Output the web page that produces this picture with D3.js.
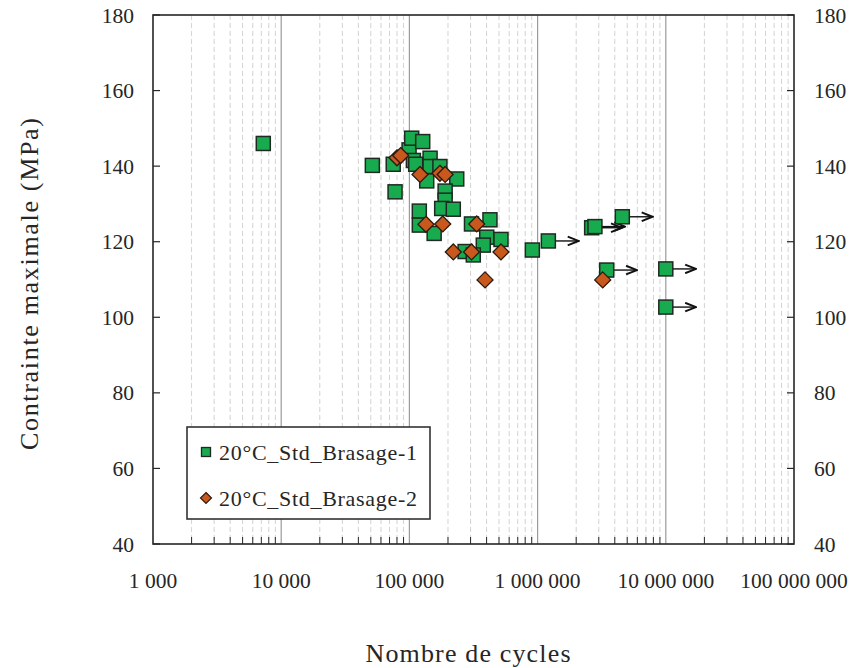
<!DOCTYPE html>
<html><head><meta charset="utf-8">
<script src="https://cdn.jsdelivr.net/npm/d3@7"></script>
<style>body{margin:0;background:#fff}svg{display:block}</style>
</head><body>
<svg id="c" width="853" height="668"></svg>
<script>
// ---- data ----
const series1Name = "20°C_Std_Brasage-1";
const series2Name = "20°C_Std_Brasage-2";
const s1Cycles = [7250, 51400, 74800, 77300, 99400, 104200, 127000, 107400, 112000, 145000, 145000, 173000, 136500, 234000, 190000, 190000, 178600, 220000, 119500, 119500, 156000, 305000, 425000, 401000, 518000, 377000, 272000, 315000, 910000, 1213000, 2640000, 2800000, 4580000, 3460000, 10000000, 10000000];
const s1Stress = [146.0, 140.2, 140.5, 133.2, 144.3, 147.4, 146.5, 141.5, 140.5, 142.1, 139.9, 139.9, 136.1, 136.6, 133.4, 131.0, 128.8, 128.6, 128.1, 124.4, 122.2, 124.7, 125.8, 121.2, 120.6, 119.1, 117.4, 116.5, 117.8, 120.2, 123.7, 124.0, 126.6, 112.5, 112.8, 102.7];
const s1Runout = [0,0,0,0,0,0,0,0,0,0,0,0,0,0,0,0,0,0,0,0,0,0,0,0,0,0,0,0,0,1,1,1,1,1,1,1];
const s2Cycles = [80000, 85500, 121000, 173000, 190000, 134600, 182000, 335000, 220000, 305000, 518000, 389000, 3220000];
const s2Stress = [142.2, 142.8, 137.8, 138.1, 137.8, 124.6, 124.7, 124.7, 117.3, 117.3, 117.3, 109.9, 109.9];
const xTickValues = [1e3, 1e4, 1e5, 1e6, 1e7, 1e8];
const xTickLabels = ["1 000", "10 000", "100 000", "1 000 000", "10 000 000", "100 000 000"];
const yTickValues = [40, 60, 80, 100, 120, 140, 160, 180];
const xTitle = "Nombre de cycles";
const yTitle = "Contrainte maximale (MPa)";
const runoutFactor = 1.72;

// ---- layout ----
const L = 153, R = 794, T = 15, B = 544;
const svg = d3.select("#c");
const font = "'Liberation Serif', 'DejaVu Serif', serif";
const x = d3.scaleLog().domain([1e3, 1e8]).range([L, R]);
const y = d3.scaleLinear().domain([40, 180]).range([B, T]);
const green = "#18aa4f", orange = "#c9581d";
const ink = "#262626";

// minor & major vertical grid
const minors = [];
for (let d = 1e3; d < 1e8; d *= 10) for (let k = 2; k <= 9; k++) minors.push(d * k);
svg.append("g").selectAll("line").data(minors).join("line")
  .attr("x1", d => x(d)).attr("x2", d => x(d)).attr("y1", T).attr("y2", B)
  .attr("stroke", "#d2d2d2").attr("stroke-width", 1).attr("stroke-dasharray", "5,3");
svg.append("g").selectAll("line").data(xTickValues.slice(1, -1)).join("line")
  .attr("x1", d => x(d)).attr("x2", d => x(d)).attr("y1", T).attr("y2", B)
  .attr("stroke", "#9a9a9a").attr("stroke-width", 1.2);

// bottom axis minor ticks (inward)
svg.append("g").selectAll("line").data(minors).join("line")
  .attr("x1", d => x(d)).attr("x2", d => x(d)).attr("y1", B).attr("y2", B - 7)
  .attr("stroke", ink).attr("stroke-width", 1);

// y ticks inward both sides
svg.append("g").selectAll("line").data(yTickValues).join("line")
  .attr("x1", L).attr("x2", L + 7).attr("y1", d => y(d)).attr("y2", d => y(d))
  .attr("stroke", ink).attr("stroke-width", 1.2);
svg.append("g").selectAll("line").data(yTickValues).join("line")
  .attr("x1", R).attr("x2", R - 7).attr("y1", d => y(d)).attr("y2", d => y(d))
  .attr("stroke", ink).attr("stroke-width", 1.2);

// frame
svg.append("rect").attr("x", L).attr("y", T).attr("width", R - L).attr("height", B - T)
  .attr("fill", "none").attr("stroke", ink).attr("stroke-width", 1.6);

// tick labels
const tfs = 21.5;
svg.append("g").selectAll("text").data(yTickValues).join("text")
  .attr("x", L - 19).attr("y", d => y(d)).attr("dy", "0.35em").attr("text-anchor", "end")
  .attr("font-family", font).attr("font-size", tfs).attr("fill", ink).text(d => d);
svg.append("g").selectAll("text").data(yTickValues).join("text")
  .attr("x", R + 20).attr("y", d => y(d)).attr("dy", "0.35em").attr("text-anchor", "start")
  .attr("font-family", font).attr("font-size", tfs).attr("fill", ink).text(d => d);
svg.append("g").selectAll("text").data(xTickValues).join("text")
  .attr("x", d => x(d)).attr("y", 588).attr("text-anchor", "middle")
  .attr("font-family", font).attr("font-size", tfs).attr("fill", ink)
  .text((d, i) => xTickLabels[i]);

// titles
svg.append("text").attr("x", 468).attr("y", 662).attr("text-anchor", "middle")
  .attr("font-family", font).attr("font-size", 26).attr("fill", ink)
  .attr("textLength", 205).attr("lengthAdjust", "spacing").text(xTitle);
svg.append("text").attr("transform", `translate(38,284) rotate(-90)`)
  .attr("text-anchor", "middle").attr("font-family", font).attr("font-size", 26)
  .attr("fill", ink).attr("textLength", 332).attr("lengthAdjust", "spacing").text(yTitle);

// arrow marker
svg.append("defs").append("marker").attr("id", "arr").attr("viewBox", "0 0 12 10")
  .attr("refX", 11).attr("refY", 5).attr("markerWidth", 13).attr("markerHeight", 11)
  .attr("markerUnits", "userSpaceOnUse").attr("orient", "auto")
  .append("path").attr("d", "M1,1 L11,5 L1,9").attr("fill", "none")
  .attr("stroke", "#111").attr("stroke-width", 1.8);

const s1 = s1Cycles.map((c, i) => ({c, s: s1Stress[i], r: s1Runout[i]}));
const s2 = s2Cycles.map((c, i) => ({c, s: s2Stress[i]}));

// runout arrows
svg.append("g").selectAll("line").data(s1.filter(d => d.r)).join("line")
  .attr("x1", d => x(d.c)).attr("x2", d => x(d.c * runoutFactor))
  .attr("y1", d => y(d.s)).attr("y2", d => y(d.s))
  .attr("stroke", "#111").attr("stroke-width", 1.4).attr("marker-end", "url(#arr)");

// squares
const sq = 14;
svg.append("g").selectAll("rect").data(s1).join("rect")
  .attr("x", d => x(d.c) - sq / 2).attr("y", d => y(d.s) - sq / 2)
  .attr("width", sq).attr("height", sq)
  .attr("fill", green).attr("stroke", "#1e2a22").attr("stroke-width", 1.5);

// diamonds
const dm = 8;
svg.append("g").selectAll("path").data(s2).join("path")
  .attr("d", d => { const cx = x(d.c), cy = y(d.s);
    return `M${cx},${cy - dm}L${cx + dm},${cy}L${cx},${cy + dm}L${cx - dm},${cy}Z`; })
  .attr("fill", orange).attr("stroke", "#2a1a10").attr("stroke-width", 1.3);

// legend
const lg = svg.append("g");
lg.append("rect").attr("x", 187).attr("y", 427).attr("width", 243).attr("height", 92)
  .attr("fill", "#fff").attr("stroke", "#333").attr("stroke-width", 1.6);
lg.append("rect").attr("x", 201.5).attr("y", 447.5).attr("width", 9).attr("height", 9)
  .attr("fill", green).attr("stroke", "#1e2a22").attr("stroke-width", 1.3);
lg.append("path").attr("d", "M206,492.5L211.5,498L206,503.5L200.5,498Z")
  .attr("fill", orange).attr("stroke", "#2a1a10").attr("stroke-width", 1.2);
lg.append("text").attr("x", 219).attr("y", 452).attr("dy", "0.35em")
  .attr("font-family", font).attr("font-size", 22).attr("fill", ink)
  .attr("textLength", 198).attr("lengthAdjust", "spacing").text(series1Name);
lg.append("text").attr("x", 219).attr("y", 498).attr("dy", "0.35em")
  .attr("font-family", font).attr("font-size", 22).attr("fill", ink)
  .attr("textLength", 198).attr("lengthAdjust", "spacing").text(series2Name);
</script>
</body></html>
